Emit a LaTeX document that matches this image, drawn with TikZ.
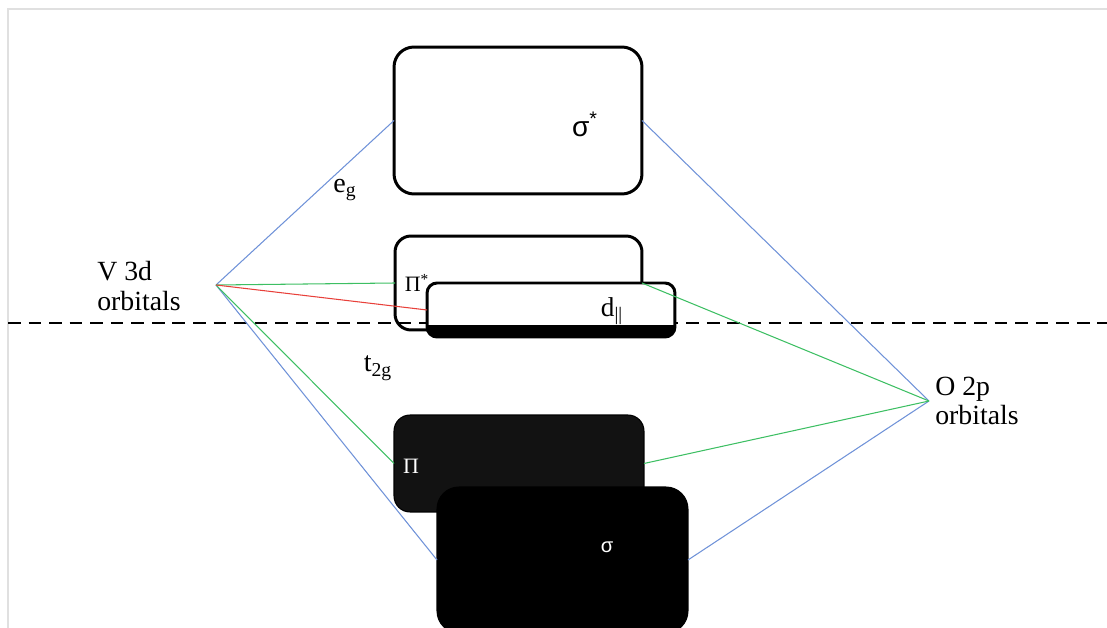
\documentclass[tikz,border=0pt]{standalone}
\usepackage{fontspec}
\setmainfont{Liberation Serif}
\newfontfamily\symsans{Liberation Sans}
\usetikzlibrary{positioning}

\definecolor{egblue}{HTML}{6F92D8}
\definecolor{pigreen}{HTML}{3DBF63}
\definecolor{dred}{HTML}{E8403A}

\begin{document}
\begin{tikzpicture}[x=0.02cm,y=-0.02cm,
  level/.style={draw=black,line width=1.7pt,fill=white,inner sep=0pt,outer sep=0pt},
  filled/.style={level,fill=black,line width=0.6pt},
  bond/.style={line width=0.6pt},
  tag/.style={inner sep=0pt,font=\fontsize{15.8}{17}\selectfont,align=left}]
\useasboundingbox (0,0) rectangle (1107,628);
% page outline
\draw[black!12,line width=0.6pt] (8,628) -- (8,9) -- (1107,9);

% energy levels
\node[level,rounded corners=0.4cm,minimum width=4.96cm,minimum height=2.94cm]
     (sigstar) at (518,120.5) {};
\node[level,rounded corners=0.32cm,minimum width=4.94cm,minimum height=1.88cm]
     (pistar) at (518.5,283) {};
\draw[line width=1.7pt,dash pattern=on 7.2pt off 4.5pt] (8,323) -- (1107,323);
\node[level,rounded corners=0.2cm,minimum width=4.96cm,minimum height=1.08cm]
     (dpar) at (551,310) {};
\begin{scope}
  \clip[rounded corners=0.2cm] (dpar.south west) rectangle (dpar.north east);
  \fill[black] (dpar.south west) rectangle ([yshift=0.24cm]dpar.south east);
\end{scope}
\node[filled,fill=black!93,rounded corners=0.32cm,minimum width=5cm,minimum height=1.94cm]
     (pi) at (519,463.5) {};
\node[filled,rounded corners=0.44cm,minimum width=5.02cm,minimum height=2.92cm]
     (sig) at (562.5,560) {};

% atomic orbitals
\coordinate (V) at (216,285);
\coordinate (O) at (929,401);
\node[tag,anchor=west] (Vtxt) at (97,286) {V 3d\\orbitals};
\node[tag,anchor=west] (Otxt) at (935,401) {O 2p\\orbitals};

% connectors
\draw[bond,egblue] (V) -- (sigstar.west);
\draw[bond,egblue] (sigstar.east) -- (O);
\draw[bond,egblue] (V) -- (sig.west);
\draw[bond,egblue] (sig.east) -- (O);
\draw[bond,pigreen] (V) -- (pistar.west);
\draw[bond,pigreen] (pistar.east) -- (O);
\draw[bond,pigreen] (V) -- (pi.west);
\draw[bond,pigreen] (pi.east) -- (O);
\draw[bond,dred] (V) -- (dpar.west);

% labels
\node[inner sep=0pt,font=\fontsize{16}{18}\symsans] (sigstarlbl) at (585,124)
     {σ\textsuperscript{*}};
\node[inner sep=0pt,font=\fontsize{12.5}{14}\selectfont] (pistarlbl) at (417,283)
     {Π\textsuperscript{*}};
\node[inner sep=0pt,font=\fontsize{15.5}{17}\selectfont] (dparlbl) at (612,311)
     {d\textsubscript{||}};
\node[inner sep=0pt,white,font=\fontsize{12.5}{14}\selectfont] (pilbl) at (411,466) {Π};
\node[inner sep=0pt,white,font=\fontsize{11.5}{13}\symsans] (siglbl) at (607,547) {σ};
\node[inner sep=0pt,font=\fontsize{16}{18}\selectfont] (eglbl) at (345,190)
     {e\textsubscript{g}};
\node[inner sep=0pt,font=\fontsize{16}{18}\selectfont] (ttglbl) at (378,368)
     {t\textsubscript{2g}};
\end{tikzpicture}
\end{document}
